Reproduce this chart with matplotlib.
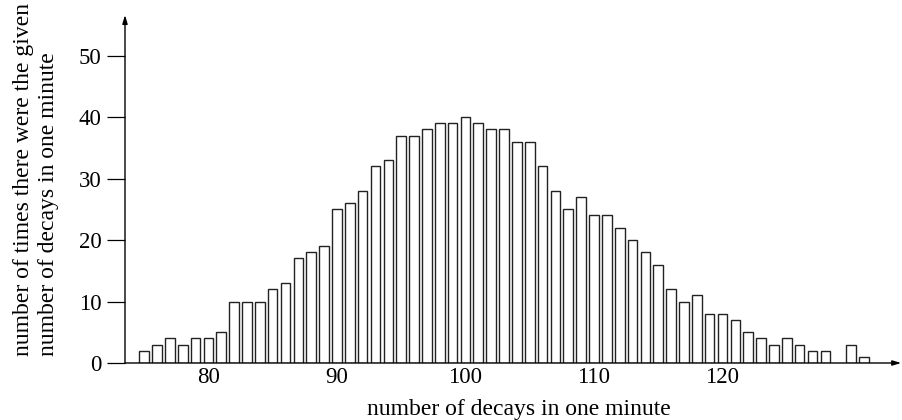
import matplotlib
matplotlib.use("Agg")
import matplotlib.pyplot as plt

plt.rcParams["font.family"] = ["Liberation Serif", "DejaVu Serif"]

# Data: decay counts per minute and how often each occurred
decays = list(range(75, 132))
counts = [2, 3, 4, 3, 4, 4, 5, 10, 10, 10,
          12, 13, 17, 18, 19, 25, 26, 28, 32, 33,
          37, 37, 38, 39, 39, 40, 39, 38, 38, 36,
          36, 32, 28, 25, 27, 24, 24, 22, 20, 18,
          16, 12, 10, 11, 8, 8, 7, 5, 4, 3,
          4, 3, 2, 2, 0, 3, 1]
x_ticks = [80, 90, 100, 110, 120]
y_ticks = [0, 10, 20, 30, 40, 50]

fig = plt.figure(figsize=(9.02, 4.2), dpi=100)
ax = fig.add_axes([125 / 902, 57 / 420, 0.8605, 348 / 420])

# Bars (zero-height bar is drawn as nothing)
heights = [c if c > 0 else float("nan") for c in counts]
ax.bar(decays, heights, width=0.75, color="white", edgecolor="#222222",
       linewidth=1.0)

ax.set_xlim(73.51, 133.9)
ax.set_ylim(0, 56.6)

for s in ax.spines.values():
    s.set_visible(False)

# Axes with arrow heads
ax.annotate("", xy=(1, 0), xytext=(0, 0), xycoords="axes fraction",
            arrowprops=dict(arrowstyle="-|>,head_length=0.5,head_width=0.15",
                            color="black", lw=1.0, shrinkA=0, shrinkB=0))
ax.annotate("", xy=(0, 1), xytext=(0, 0), xycoords="axes fraction",
            arrowprops=dict(arrowstyle="-|>,head_length=0.5,head_width=0.15",
                            color="black", lw=1.0, shrinkA=0, shrinkB=0))

ax.set_xticks(x_ticks)
ax.set_xticklabels([str(t) for t in x_ticks])
ax.set_yticks(y_ticks)
ax.set_yticklabels([str(t) for t in y_ticks])
ax.tick_params(axis="x", length=0, pad=3, labelsize=16.5)
ax.tick_params(axis="y", length=13, width=0.9, pad=4, labelsize=16.5,
               direction="out")

fig.text(519 / 902, 5 / 420, "number of decays in one minute",
         ha="center", va="baseline", fontsize=17)
fig.text(36 / 902, 64 / 420,
         "number of times there were the given\nnumber of decays in one minute",
         rotation=90, ha="center", va="bottom", multialignment="left",
         fontsize=17, linespacing=1.2)

plt.savefig("out.png", dpi=100)
